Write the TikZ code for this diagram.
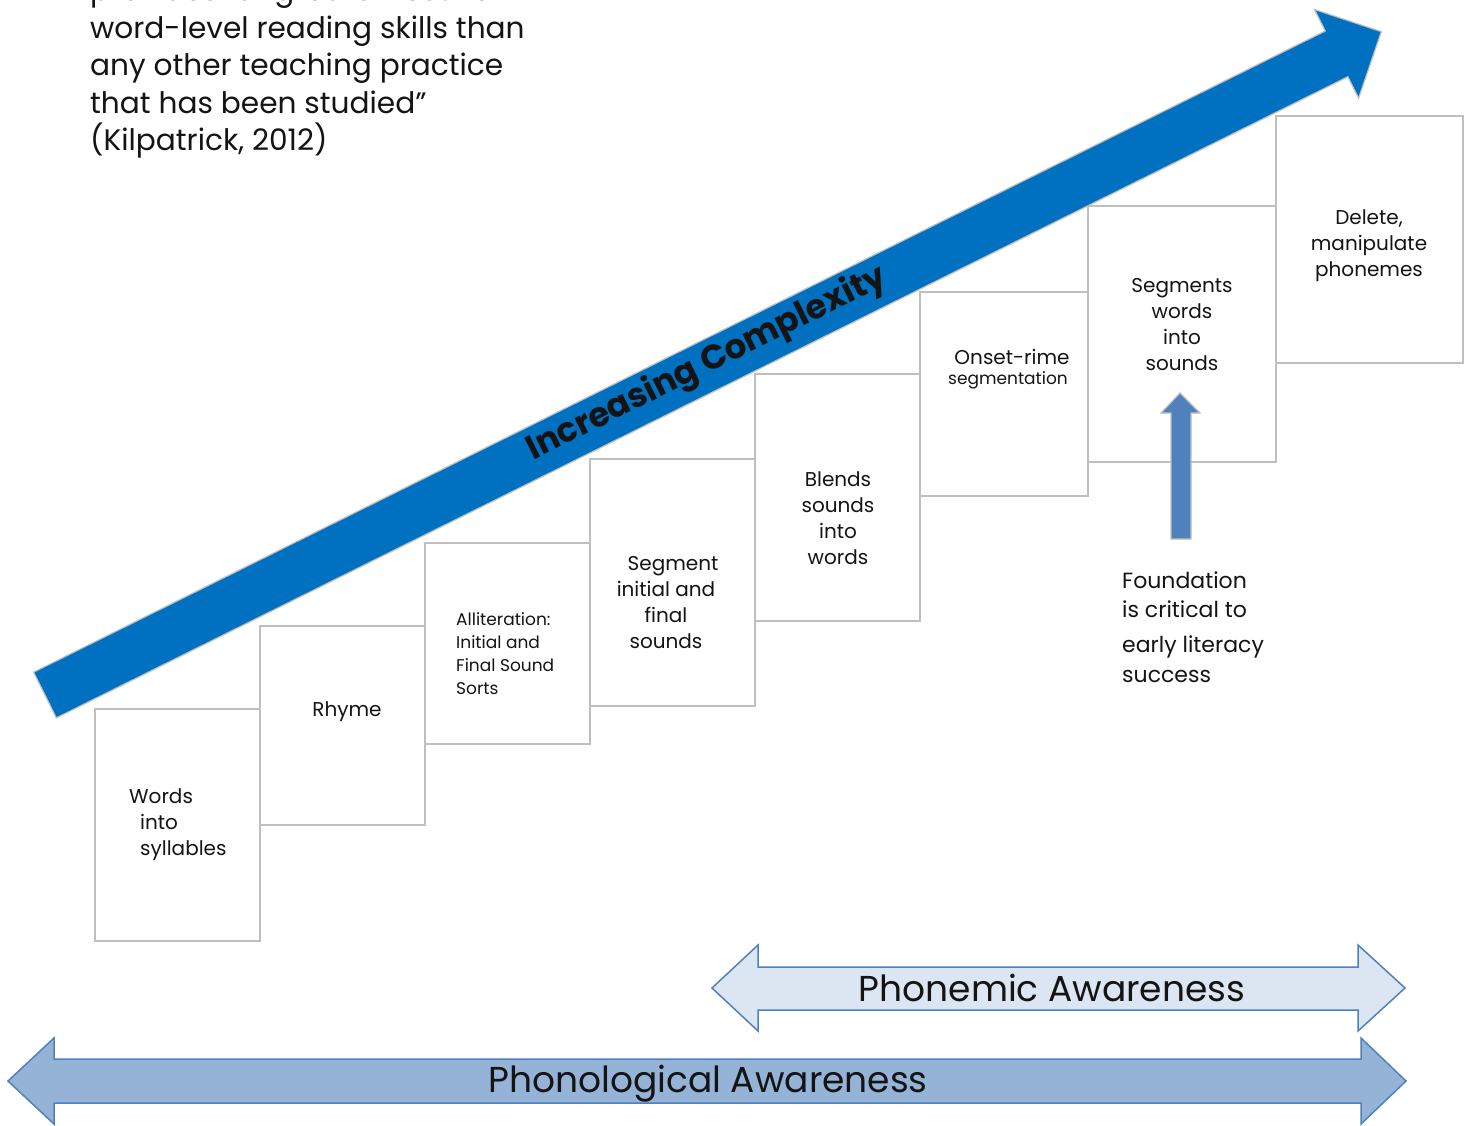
\documentclass[tikz,border=0pt]{standalone}
\usepackage{fontspec}
\setmainfont{Poppins}
\definecolor{boxgray}{HTML}{BFBFBF}
\definecolor{bigblue}{HTML}{0070C0}
\definecolor{midblue}{HTML}{4F81BD}
\definecolor{paleblue}{HTML}{DCE6F2}
\definecolor{softblue}{HTML}{95B3D7}
\definecolor{ink}{HTML}{141414}
\begin{document}
\begin{tikzpicture}[x=1pt,y=-1pt,
  stage/.style={draw=boxgray, line width=2pt, fill=white, anchor=north west, inner sep=0pt},
  label/.style={text=ink, inner sep=0pt, align=center, font=\fontsize{20}{26}\selectfont},
  smalllabel/.style={text=ink, inner sep=0pt, font=\fontsize{17}{23}\selectfont},
  band/.style={draw=midblue, line width=1.5pt},
  bandtext/.style={text=ink, inner sep=0pt, font=\fontsize{36}{42}\selectfont}]
\useasboundingbox (0,0) rectangle (1471,1125);
\fill[white] (0,0) rectangle (1471,1125);

% quotation, its first line running off the top edge
\node[text=ink, inner sep=0pt, anchor=north west, align=left,
      font=\fontsize{29.6}{37.5}\selectfont] (quote) at (90,-22)
  {provides far greater results in\\
   word-level reading skills than\\
   any other teaching practice\\
   that has been studied''\\
   (Kilpatrick, 2012)};

% the staircase of skills
\node[stage, minimum width=165pt, minimum height=232pt] (s1) at (94,708) {};
\node[stage, minimum width=165pt, minimum height=199pt] (s2) at (259,625) {};
\node[stage, minimum width=165pt, minimum height=201pt] (s3) at (424,542) {};
\node[stage, minimum width=165pt, minimum height=247pt] (s4) at (589,458) {};
\node[stage, minimum width=165pt, minimum height=247pt] (s5) at (754,373) {};
\node[stage, minimum width=168pt, minimum height=204pt] (s6) at (919,291) {};
\node[stage, minimum width=188pt, minimum height=256pt] (s7) at (1087,205) {};
\node[stage, minimum width=187pt, minimum height=247pt] (s8) at (1275,115) {};

\node[label, align=left, anchor=west] (t1) at (129,825)
  {Words\\\hspace*{11pt}into\\\hspace*{11pt}syllables};
\node[label] (t2) at (347,712) {Rhyme};
\node[smalllabel, align=left, anchor=west] (t3) at (456,654)
  {Alliteration:\\Initial and\\Final Sound\\Sorts};
\node[label] (t4) at (666,603) {\hspace*{14pt}Segment\\initial and\\final\\sounds};
\node[label] (t5) at (838,518) {Blends\\sounds\\into\\words};
\node[label] (t6) at (1012,357) {Onset-rime};
\node[smalllabel] (t6b) at (1008,380) {segmentation};
\node[label] (t7) at (1182,325) {Segments\\words\\into\\sounds};
\node[label] (t8) at (1369,246) {Delete,\\manipulate\\phonemes};

% rising arrow
\begin{scope}[shift={(45,695)}, rotate=26.4]
  \filldraw[fill=bigblue, draw=boxgray, line width=1.2pt, line join=miter]
    (0,-25.5) -- (1442,-25.5) -- (1442,-49.5) -- (1492,0) -- (1442,49.5)
    -- (1442,25.5) -- (0,25.5) -- cycle;
\end{scope}
\node[rotate=26.4, inner sep=0pt, text=ink,
      font=\fontsize{34}{40}\selectfont\bfseries] (rise) at (707,364)
  {Increasing Complexity};

% foundation pointer
\filldraw[fill=midblue, draw=boxgray, line width=1.2pt]
  (1171,539) -- (1171,413) -- (1161,413) -- (1180,393) -- (1200,413)
  -- (1191,413) -- (1191,539) -- cycle;
\node[text=ink, inner sep=0pt, anchor=north west, align=left,
      font=\fontsize{22}{29}\selectfont] (found) at (1122,572)
  {Foundation\\is critical to\\[6pt]early literacy\\[1pt]success};

% awareness bands
\filldraw[band, fill=paleblue]
  (712,988) -- (758,945) -- (758,967) -- (1358,967) -- (1358,945) -- (1405,988)
  -- (1358,1031) -- (1358,1010) -- (758,1010) -- (758,1031) -- cycle;
\node[bandtext] (phonemic) at (1052,988) {Phonemic Awareness};
\filldraw[band, fill=softblue]
  (8,1081) -- (54,1038) -- (54,1059) -- (1361,1059) -- (1361,1038) -- (1406,1081)
  -- (1361,1124) -- (1361,1103) -- (54,1103) -- (54,1124) -- cycle;
\node[bandtext] (phonological) at (708,1084) {Phonological Awareness};
\end{tikzpicture}
\end{document}
